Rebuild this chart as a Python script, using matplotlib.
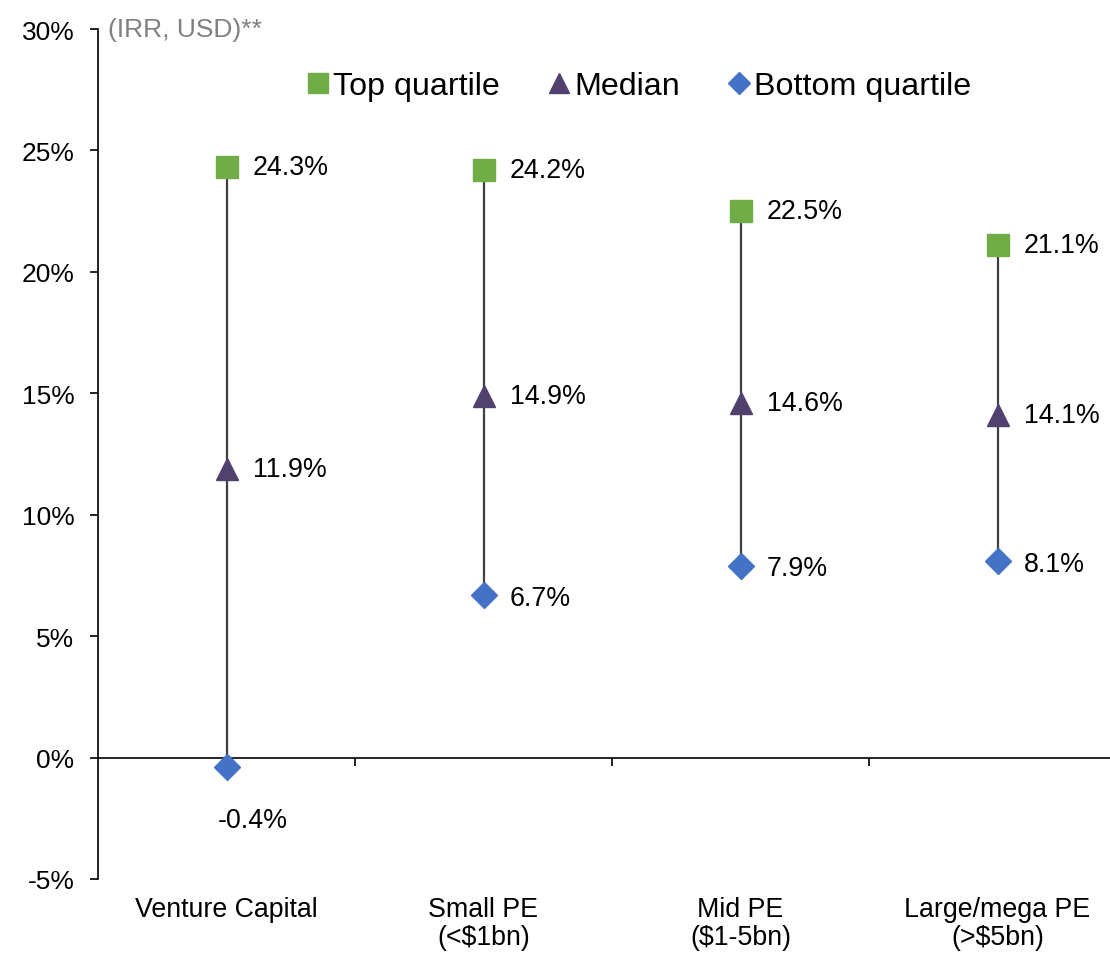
import matplotlib
matplotlib.use("Agg")
import matplotlib.pyplot as plt
from matplotlib.lines import Line2D

plt.rcParams['font.family'] = ['Liberation Sans', 'DejaVu Sans']

categories = ["Venture Capital", "Small PE\n(<$1bn)", "Mid PE\n($1-5bn)", "Large/mega PE\n(>$5bn)"]
top_quartile = [24.3, 24.2, 22.5, 21.1]
median = [11.9, 14.9, 14.6, 14.1]
bottom_quartile = [-0.4, 6.7, 7.9, 8.1]
y_ticks = [-5, 0, 5, 10, 15, 20, 25, 30]

GREEN = "#70AD47"
PURPLE = "#51416F"
BLUE = "#4472C4"
STEM = "#404040"

W, H = 1110, 954
fig = plt.figure(figsize=(W / 100, H / 100), dpi=100)
ax = fig.add_axes([98 / W, (H - 880) / H, 1028 / W, 850 / H])

x = list(range(len(categories)))

# vertical range lines from bottom to top quartile
for xi, lo, hi in zip(x, bottom_quartile, top_quartile):
    ax.plot([xi, xi], [lo, hi], color=STEM, lw=1.6, zorder=1)

ax.plot(x, top_quartile, ls="none", marker="s", ms=15.5, color=GREEN, zorder=3)
ax.plot(x, median, ls="none", marker="^", ms=16, color=PURPLE, zorder=3)
ax.plot(x, bottom_quartile, ls="none", marker="D", ms=13, color=BLUE, zorder=3)

label_fs = 19.3
for xi, v in zip(x, top_quartile):
    ax.annotate(f"{v:.1f}%", (xi, v), xytext=(19, 0), textcoords="offset points",
                ha="left", va="center", fontsize=label_fs)
for xi, v in zip(x, median):
    ax.annotate(f"{v:.1f}%", (xi, v), xytext=(19, 0), textcoords="offset points",
                ha="left", va="center", fontsize=label_fs)
for xi, v in zip(x, bottom_quartile):
    if v < 0:
        ax.annotate(f"{v:.1f}%", (xi, v), xytext=(19, -38), textcoords="offset points",
                    ha="center", va="center", fontsize=label_fs)
    else:
        ax.annotate(f"{v:.1f}%", (xi, v), xytext=(19, -2), textcoords="offset points",
                    ha="left", va="center", fontsize=label_fs)

ax.set_xlim(-0.5, len(categories) - 0.5)
ax.set_ylim(-5, 30)
ax.set_yticks(y_ticks)
ax.set_yticklabels([f"{t}%" for t in y_ticks])
ax.tick_params(axis="y", direction="out", length=6, width=1.2, pad=11, labelsize=19)

# category boundaries marked on the zero line
ax.set_xticks([i + 0.5 for i in x[:-1]])
ax.set_xticklabels([])
ax.tick_params(axis="x", direction="out", length=6, width=1.2)

ax.spines["top"].set_visible(False)
ax.spines["right"].set_visible(False)
ax.spines["bottom"].set_position(("data", 0))
ax.spines["left"].set_linewidth(1.2)
ax.spines["bottom"].set_linewidth(1.2)

for xi, name in zip(x, categories):
    ax.annotate(name, (xi, 0), xycoords=("data", "axes fraction"),
                xytext=(0, -12), textcoords="offset points",
                ha="center", va="top", fontsize=19.3, linespacing=1.1)

fig.text(108 / W, 1 - 30 / H, "(IRR, USD)**", color="#808080", fontsize=19,
         ha="left", va="center")

handles = [
    Line2D([], [], ls="none", marker="s", ms=14, color=GREEN),
    Line2D([], [], ls="none", marker="^", ms=15, color=PURPLE),
    Line2D([], [], ls="none", marker="D", ms=11, color=BLUE),
]
fig.legend(handles, ["Top quartile", "Median", "Bottom quartile"], ncol=3,
           loc="center", bbox_to_anchor=(640 / W, 1 - 87 / H), frameon=False,
           fontsize=23.2, handlelength=0.55, handletextpad=0.2, columnspacing=1.55)

fig.savefig("out.png", dpi=100)
